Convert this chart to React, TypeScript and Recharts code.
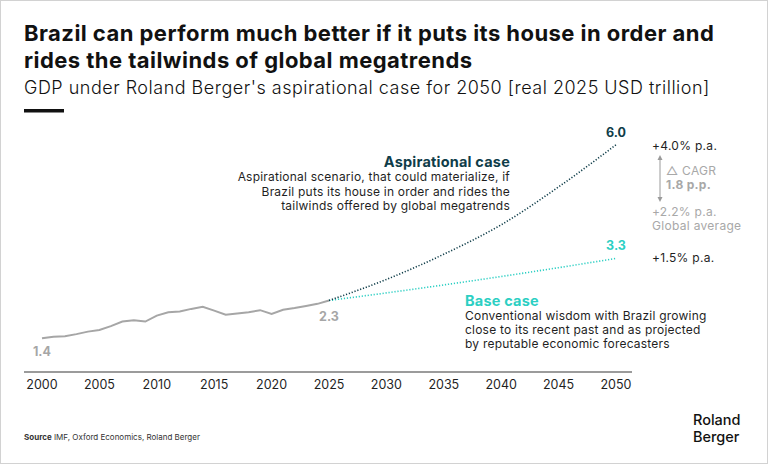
import React from "react";
import { LineChart, Line, XAxis, YAxis } from "recharts";

// Brazil real GDP, USD trillion (2025 prices)
const historyStartYear = 2000;
const historyValues = [
  1.4, 1.44, 1.45, 1.5, 1.56, 1.6, 1.69, 1.8, 1.83, 1.8, 1.94, 2.02, 2.04,
  2.1, 2.15, 2.06, 1.96, 1.99, 2.02, 2.07, 1.98, 2.08, 2.12, 2.17, 2.22, 2.3,
];

// Scenario paths to 2050
const projectionYears = [2025, 2030, 2035, 2040, 2045, 2050];
const aspirationalValues = [2.3, 2.8, 3.4, 4.1, 5.0, 6.0];
const baseValues = [2.3, 2.48, 2.67, 2.87, 3.08, 3.3];

const xTicks = [2000, 2005, 2010, 2015, 2020, 2025, 2030, 2035, 2040, 2045, 2050];

const FONT = "Inter, 'Noto Sans', sans-serif";
const DARK_TEAL = "#0f3d49";
const CYAN = "#2ccfc3";
const GREY = "#a6a6a6";
const TEXT = "#1f1f1f";

type Row = { year: number; hist?: number; asp?: number; base?: number };

const table: Row[] = (() => {
  const map = new Map<number, Row>();
  const get = (y: number) => {
    if (!map.has(y)) map.set(y, { year: y });
    return map.get(y)!;
  };
  historyValues.forEach((v, i) => {
    get(historyStartYear + i).hist = v;
  });
  projectionYears.forEach((y, i) => {
    get(y).asp = aspirationalValues[i];
    get(y).base = baseValues[i];
  });
  return Array.from(map.values()).sort((a, b) => a.year - b.year);
})();

const lastHistoryYear = historyStartYear + historyValues.length - 1;
const lastProjectionYear = projectionYears[projectionYears.length - 1];

const valueLabel =
  (key: "hist" | "asp" | "base", color: string) => (props: any) => {
    const { x, y, index, value } = props;
    const row = table[index];
    if (!row || value == null) return null;
    let dy = 0;
    if (key === "hist") {
      if (row.year === historyStartYear) dy = 18;
      else if (row.year === lastHistoryYear) dy = 21;
      else return null;
    } else {
      if (row.year !== lastProjectionYear) return null;
      dy = -8;
    }
    return (
      <text
        key={`${key}-${index}`}
        x={x}
        y={y + dy}
        textAnchor="middle"
        fontFamily={FONT}
        fontWeight={700}
        fontSize={12.5}
        fill={color}
      >
        {Number(value).toFixed(1)}
      </text>
    );
  };

export default function App() {
  return (
    <div
      style={{
        position: "fixed",
        left: 0,
        top: 0,
        width: 768,
        height: 464,
        background: "#fff",
        fontFamily: FONT,
      }}
    >
      <LineChart
        width={768}
        height={464}
        data={table}
        margin={{ top: 128, right: 136, left: 24, bottom: 62 }}
      >
        <XAxis
          dataKey="year"
          type="number"
          domain={[2000, 2050]}
          ticks={xTicks}
          padding={{ left: 18, right: 16 }}
          height={30}
          tickLine={false}
          axisLine={{ stroke: "#7a7a7a", strokeWidth: 1.5 }}
          tick={{ fontSize: 12.5, fill: TEXT, fontFamily: FONT }}
          interval={0}
        />
        <YAxis hide type="number" domain={[0.6, 6.4]} allowDataOverflow />
        <Line
          dataKey="hist"
          stroke={GREY}
          strokeWidth={2}
          dot={false}
          type="linear"
          isAnimationActive={false}
          label={valueLabel("hist", GREY)}
        />
        <Line
          dataKey="base"
          stroke={CYAN}
          strokeWidth={1.6}
          strokeDasharray="1.2 1.8"
          dot={false}
          type="monotone"
          connectNulls
          isAnimationActive={false}
          label={valueLabel("base", CYAN)}
        />
        <Line
          dataKey="asp"
          stroke={DARK_TEAL}
          strokeWidth={1.6}
          strokeDasharray="1.2 1.8"
          dot={false}
          type="monotone"
          connectNulls
          isAnimationActive={false}
          label={valueLabel("asp", DARK_TEAL)}
        />
      </LineChart>

      <svg
        width={768}
        height={464}
        style={{ position: "absolute", left: 0, top: 0, pointerEvents: "none" }}
        fontFamily={FONT}
      >
        <rect x={0.5} y={0.5} width={767} height={463} fill="none" stroke="#d2d2d2" />

        {/* Heading */}
        <text x={24} y={41} fontSize={22} fontWeight={700} fill="#111" letterSpacing={0.45}>
          Brazil can perform much better if it puts its house in order and
        </text>
        <text x={24} y={68} fontSize={22} fontWeight={700} fill="#111" letterSpacing={0.45}>
          rides the tailwinds of global megatrends
        </text>
        <text x={24} y={94} fontSize={18} fontWeight={300} fill="#111" letterSpacing={0.5}>
          GDP under Roland Berger's aspirational case for 2050 [real 2025 USD trillion]
        </text>
        <rect x={24} y={109} width={40} height={3.5} fill="#111" />

        {/* Aspirational case note */}
        <text x={510} y={167} textAnchor="end" fontSize={14.5} fontWeight={700} fill={DARK_TEAL} letterSpacing={0.2}>
          Aspirational case
        </text>
        <g fontSize={12} fill={TEXT} textAnchor="end" letterSpacing={0.22}>
          <text x={510} y={181}>Aspirational scenario, that could materialize, if</text>
          <text x={510} y={196}>Brazil puts its house in order and rides the</text>
          <text x={510} y={210}>tailwinds offered by global megatrends</text>
        </g>

        {/* Base case note */}
        <text x={465} y={306} fontSize={14.5} fontWeight={700} fill={CYAN} letterSpacing={0.2}>
          Base case
        </text>
        <g fontSize={12} fill={TEXT} letterSpacing={0.22}>
          <text x={465} y={320}>Conventional wisdom with Brazil growing</text>
          <text x={465} y={334}>close to its recent past and as projected</text>
          <text x={465} y={348}>by reputable economic forecasters</text>
        </g>

        {/* Growth rates */}
        <g fontSize={12} letterSpacing={0.3}>
          <text x={652} y={150} fill={TEXT}>+4.0% p.a.</text>
          <text x={666} y={175} fill="#a8a8a8">△ CAGR</text>
          <text x={666} y={189} fill="#a8a8a8" fontWeight={700}>1.8 p.p.</text>
          <text x={652} y={216} fill="#a8a8a8">+2.2% p.a.</text>
          <text x={652} y={230} fill="#a8a8a8">Global average</text>
          <text x={652} y={262} fill={TEXT}>+1.5% p.a.</text>
        </g>
        <line x1={660} y1={157} x2={660} y2={200} stroke="#9a9a9a" strokeWidth={1} />
        <path d="M657.5,160 L660,155 L662.5,160 Z" fill="#9a9a9a" />
        <path d="M657.5,197 L660,202 L662.5,197 Z" fill="#9a9a9a" />

        {/* Footer */}
        <text x={24} y={440} fontSize={8} fill="#333">
          <tspan fontWeight={700}>Source</tspan>
          <tspan> IMF, Oxford Economics, Roland Berger</tspan>
        </text>
        <g fontSize={14.5} fontWeight={500} fill="#111">
          <text x={693} y={425}>Roland</text>
          <text x={693} y={442}>Berger</text>
        </g>
      </svg>
    </div>
  );
}
